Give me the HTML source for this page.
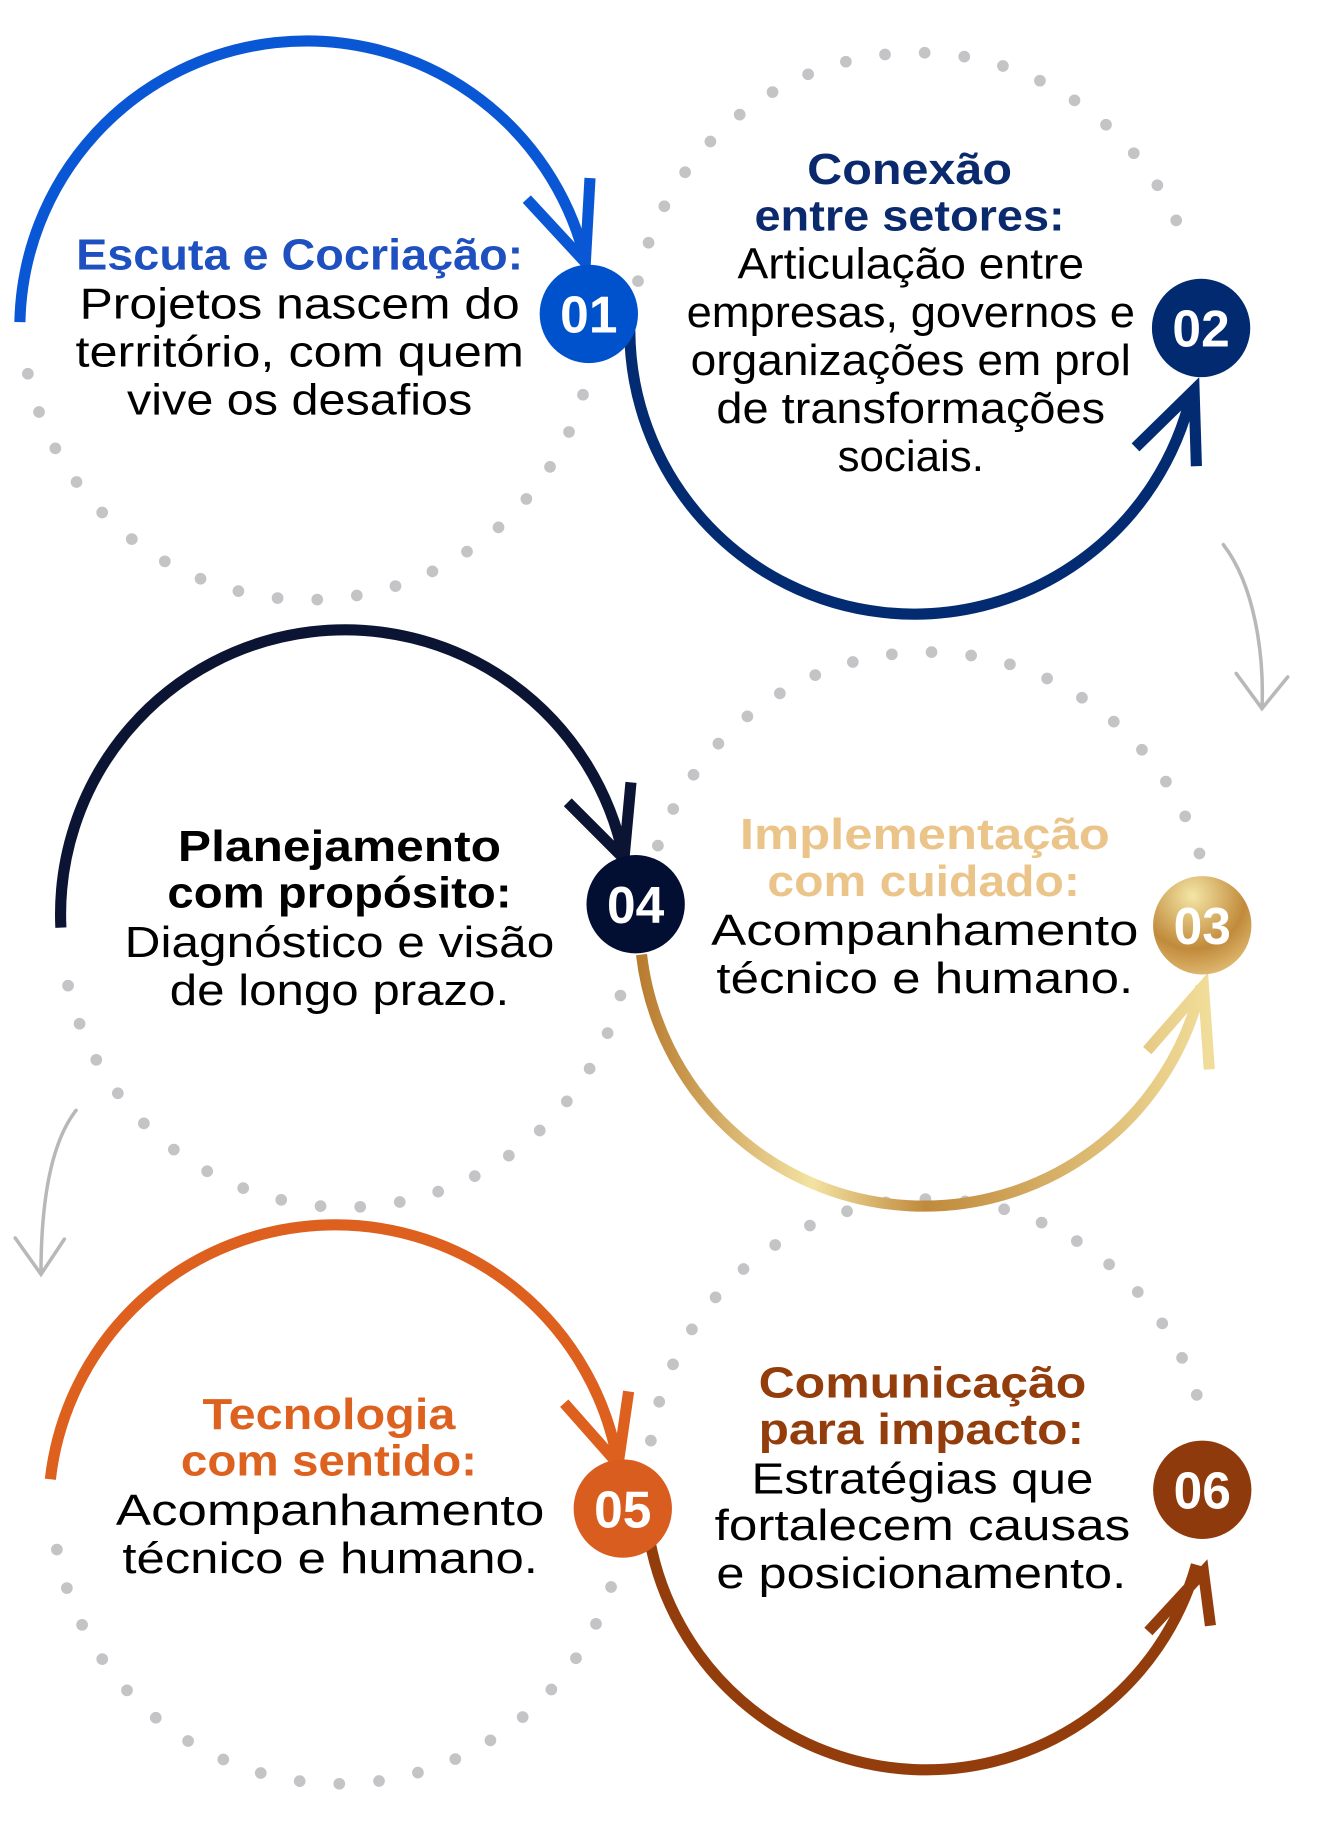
<!DOCTYPE html>
<html><head><meta charset="utf-8"><style>
html,body{margin:0;padding:0;background:#fff;}
svg{display:block;}
text{font-family:"Liberation Sans",sans-serif;text-anchor:middle;}
.h{font-weight:bold;font-size:37px;}
.b{font-size:37px;fill:#000;}
.n{font-weight:bold;font-size:44px;fill:#fff;}
.dot{fill:none;stroke:#c4c4c7;stroke-width:10;stroke-linecap:round;stroke-dasharray:0 34;}
.arc{fill:none;stroke-width:9.5;}
</style></head><body>
<svg width="1324" height="1840" viewBox="0 0 1131 1571" preserveAspectRatio="none" xmlns="http://www.w3.org/2000/svg">
<defs>
<linearGradient id="g" x1="0" y1="0" x2="1" y2="0">
<stop offset="0" stop-color="#b97d31"/><stop offset="0.3" stop-color="#f3e3a2"/><stop offset="0.5" stop-color="#c08a3c"/><stop offset="1" stop-color="#f1dd9a"/>
</linearGradient>
<radialGradient id="gb" cx="0.4" cy="0.2" r="0.9">
<stop offset="0" stop-color="#f4e6a6"/><stop offset="0.6" stop-color="#c18a3b"/><stop offset="1" stop-color="#e6c57e"/>
</radialGradient>
</defs>
<path class="dot" d="M498,337 A245,245 0 0 1 22,310"/>
<path class="dot" d="M545,240 A243,243 0 0 1 1015,215"/>
<path class="dot" d="M530,850 A243,243 0 0 1 55,825"/>
<path class="dot" d="M562,722 A243,243 0 0 1 1025,730"/>
<path class="dot" d="M522,1355 A245,245 0 0 1 45,1295"/>
<path class="dot" d="M556,1230 A240,240 0 0 1 1025,1200"/>
<g fill="none" stroke="#b8b8b8" stroke-width="3" stroke-linecap="round">
<path d="M1045,465 C1072,500 1080,560 1078,605 M1056,575 L1078,605 L1100,578"/>
<path d="M65,948 C40,980 35,1040 35,1088 M13,1057 L35,1088 L55,1058"/>
</g>
<path class="arc" stroke="#0a57d6" d="M17,275 A245,245 0 0 1 500,222 M450,170 L500,224 L504,152"/>
<path class="arc" stroke="#022b72" d="M538,282 A243,243 0 0 0 1018,335 M970,382 L1020,333 L1022,398"/>
<path class="arc" stroke="#0b1432" d="M52,792 A243,243 0 0 1 533,733 M485,685 L533,733 L539,668"/>
<path class="arc" stroke="url(#g)" d="M548,815 A243,243 0 0 0 1026,842 M980,897 L1028,842 L1033,913"/>
<path class="arc" stroke="#dd601f" d="M43,1263 A245,245 0 0 1 528,1250 M482,1198 L528,1250 L537,1188"/>
<path class="arc" stroke="#933d0c" d="M555,1315 A240,240 0 0 0 1022,1336 M981,1393 L1028,1342 L1034,1388"/>
<circle cx="503" cy="268" r="42" fill="#0052cc"/><text class="n" x="503" y="284">01</text>
<circle cx="1026" cy="280" r="42" fill="#012a70"/><text class="n" x="1026" y="296">02</text>
<circle cx="543" cy="772" r="42" fill="#020f33"/><text class="n" x="543" y="788">04</text>
<circle cx="1027" cy="790" r="42" fill="url(#gb)"/><text class="n" x="1027" y="806">03</text>
<circle cx="532" cy="1288" r="42" fill="#d95d1f"/><text class="n" x="532" y="1304">05</text>
<circle cx="1027" cy="1272" r="42" fill="#8f3a0c"/><text class="n" x="1027" y="1288">06</text>
<text class="h" fill="#1f50c0" x="256" y="230" textLength="382" lengthAdjust="spacingAndGlyphs">Escuta e Cocriação:</text>
<text class="b" x="256" y="272" textLength="376" lengthAdjust="spacingAndGlyphs">Projetos nascem do</text>
<text class="b" x="256" y="313" textLength="383" lengthAdjust="spacingAndGlyphs">território, com quem</text>
<text class="b" x="256" y="354" textLength="295" lengthAdjust="spacingAndGlyphs">vive os desafios</text>
<text class="h" fill="#0b2a6e" x="777" y="157" textLength="175" lengthAdjust="spacingAndGlyphs">Conexão</text>
<text class="h" fill="#0b2a6e" x="777" y="197" textLength="265" lengthAdjust="spacingAndGlyphs">entre setores:</text>
<text class="b" x="778" y="238" textLength="296" lengthAdjust="spacingAndGlyphs">Articulação entre</text>
<text class="b" x="778" y="279" textLength="383" lengthAdjust="spacingAndGlyphs">empresas, governos e</text>
<text class="b" x="778" y="320" textLength="376" lengthAdjust="spacingAndGlyphs">organizações em prol</text>
<text class="b" x="778" y="361" textLength="332" lengthAdjust="spacingAndGlyphs">de transformações</text>
<text class="b" x="778" y="402" textLength="125" lengthAdjust="spacingAndGlyphs">sociais.</text>
<text class="h" fill="#000" x="290" y="735" textLength="276" lengthAdjust="spacingAndGlyphs">Planejamento</text>
<text class="h" fill="#000" x="290" y="775" textLength="294" lengthAdjust="spacingAndGlyphs">com propósito:</text>
<text class="b" x="290" y="817" textLength="367" lengthAdjust="spacingAndGlyphs">Diagnóstico e visão</text>
<text class="b" x="290" y="858" textLength="290" lengthAdjust="spacingAndGlyphs">de longo prazo.</text>
<text class="h" fill="#ebc48a" x="790" y="725" textLength="316" lengthAdjust="spacingAndGlyphs">Implementação</text>
<text class="h" fill="#ebc48a" x="789" y="765" textLength="267" lengthAdjust="spacingAndGlyphs">com cuidado:</text>
<text class="b" x="790" y="807" textLength="365" lengthAdjust="spacingAndGlyphs">Acompanhamento</text>
<text class="b" x="790" y="848" textLength="356" lengthAdjust="spacingAndGlyphs">técnico e humano.</text>
<text class="h" fill="#dd621f" x="281" y="1220" textLength="216" lengthAdjust="spacingAndGlyphs">Tecnologia</text>
<text class="h" fill="#dd621f" x="281" y="1260" textLength="253" lengthAdjust="spacingAndGlyphs">com sentido:</text>
<text class="b" x="282" y="1302" textLength="366" lengthAdjust="spacingAndGlyphs">Acompanhamento</text>
<text class="b" x="282" y="1343" textLength="355" lengthAdjust="spacingAndGlyphs">técnico e humano.</text>
<text class="h" fill="#933d0c" x="788" y="1193" textLength="280" lengthAdjust="spacingAndGlyphs">Comunicação</text>
<text class="h" fill="#933d0c" x="787" y="1233" textLength="278" lengthAdjust="spacingAndGlyphs">para impacto:</text>
<text class="b" x="788" y="1275" textLength="292" lengthAdjust="spacingAndGlyphs">Estratégias que</text>
<text class="b" x="788" y="1315" textLength="355" lengthAdjust="spacingAndGlyphs">fortalecem causas</text>
<text class="b" x="787" y="1356" textLength="350" lengthAdjust="spacingAndGlyphs">e posicionamento.</text>
</svg>
</body></html>
